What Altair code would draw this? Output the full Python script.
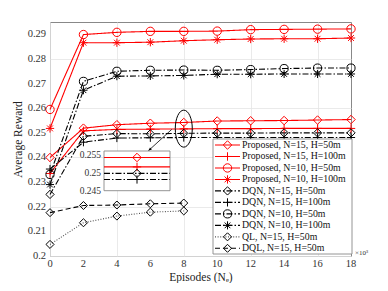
import altair as alt
import pandas as pd

# ---------------- data ----------------
episodes = [0, 2, 4, 6, 8, 10, 12, 14, 16, 18]
x_ticks = [0, 2, 4, 6, 8, 10, 12, 14, 16, 18]
y_ticks = [0.2, 0.21, 0.22, 0.23, 0.24, 0.25, 0.26, 0.27, 0.28, 0.29]
inset_ticks = [0.245, 0.25, 0.255]

series_names = [
    "Proposed, N=15, H=50m",
    "Proposed, N=15, H=100m",
    "Proposed, N=10, H=50m",
    "Proposed, N=10, H=100m",
    "DQN, N=15, H=50m",
    "DQN, N=15, H=100m",
    "DQN, N=10, H=50m",
    "DQN, N=10, H=100m",
    "QL, N=15, H=50m",
    "DQL, N=15, H=50m",
]

prop_15_50 = [0.2400, 0.2519, 0.2533, 0.2539, 0.2542, 0.2548, 0.2549, 0.2550, 0.2552, 0.2554]
prop_15_100 = [0.2335, 0.2508, 0.2514, 0.2515, 0.2516, 0.2517, 0.2517, 0.2518, 0.2518, 0.2518]
prop_10_50 = [0.2595, 0.2899, 0.2908, 0.2912, 0.2912, 0.2913, 0.2919, 0.2920, 0.2921, 0.2922]
prop_10_100 = [0.2518, 0.2866, 0.2866, 0.2868, 0.2874, 0.2878, 0.2881, 0.2882, 0.2882, 0.2885]
dqn_15_50 = [0.2250, 0.2486, 0.2497, 0.2496, 0.2498, 0.2499, 0.2499, 0.2500, 0.2500, 0.2500]
dqn_15_100 = [0.2353, 0.2462, 0.2479, 0.2480, 0.2481, 0.2481, 0.2481, 0.2481, 0.2481, 0.2481]
dqn_10_50 = [0.2331, 0.2709, 0.2750, 0.2754, 0.2755, 0.2754, 0.2757, 0.2761, 0.2763, 0.2763]
dqn_10_100 = [0.2290, 0.2673, 0.2730, 0.2731, 0.2733, 0.2738, 0.2738, 0.2739, 0.2739, 0.2739]
ql_15_50 = [0.2047, 0.2135, 0.2162, 0.2178, 0.2183]
dql_15_50 = [0.2176, 0.2205, 0.2207, 0.2212, 0.2215]

all_values = [prop_15_50, prop_15_100, prop_10_50, prop_10_100,
              dqn_15_50, dqn_15_100, dqn_10_50, dqn_10_100, ql_15_50, dql_15_50]

inset_series = [series_names[0], series_names[1], series_names[4], series_names[5]]
inset_episode = 8

# annotation (ellipse around x=8 and arrow to inset)
ellipse_at = [8, 0.2517]
arrow_from = [7.28, 0.2514]
arrow_to = [5.88, 0.2427]

# ---------------- styles ----------------
DIAMOND = "diamond"
PLUS = "M-1,0L1,0M0,-1L0,1"
CIRCLE = "circle"
STAR = "M-1,0L1,0M0,-1L0,1M-0.7,-0.7L0.7,0.7M-0.7,0.7L0.7,-0.7"
ELLIPSE = "M-0.46,0A0.46,1 0 1,0 0.46,0A0.46,1 0 1,0 -0.46,0"
ARROWHEAD = "M0,0L-0.5,-1.3L0.5,-1.3Z"

line_colors = ["#ff0000"] * 4 + ["#000000"] * 4 + ["#555555", "#000000"]
marker_colors = ["#ff0000"] * 4 + ["#000000"] * 6
dashes = [[1, 0]] * 4 + [[6, 2, 1.5, 2]] * 4 + [[1, 1.6]] + [[5, 3]]
shapes = [DIAMOND, PLUS, CIRCLE, STAR, DIAMOND, PLUS, CIRCLE, STAR, DIAMOND, DIAMOND]
sizes = [72, 64, 72, 64, 68, 64, 64, 64, 68, 68]

FONT = "Liberation Serif"

rows = []
for name, vals in zip(series_names, all_values):
    for e, v in zip(episodes, vals):
        rows.append({"series": name, "ep": e, "val": v})
df = pd.DataFrame(rows)

color_sc = alt.Scale(domain=series_names, range=line_colors)
stroke_sc = alt.Scale(domain=series_names, range=marker_colors)
dash_sc = alt.Scale(domain=series_names, range=dashes)
shape_sc = alt.Scale(domain=series_names, range=shapes)
size_sc = alt.Scale(domain=series_names, range=sizes)

x_main = alt.X(
    "ep:Q",
    scale=alt.Scale(domain=[0, 18], nice=False, zero=False),
    axis=alt.Axis(values=x_ticks, title="Episodes (Nₑ)", labels=False,
                  titlePadding=15, titleFontSize=11.5),
)
y_main = alt.Y(
    "val:Q",
    scale=alt.Scale(domain=[0.2, 0.295], nice=False, zero=False),
    axis=alt.Axis(values=y_ticks, title="Average Reward", labels=False,
                  titlePadding=27, titleFontSize=11.5),
)

lines = alt.Chart(df).mark_line(strokeWidth=1.1).encode(
    x=x_main, y=y_main,
    color=alt.Color("series:N", scale=color_sc, legend=None),
    strokeDash=alt.StrokeDash("series:N", scale=dash_sc, legend=None),
    detail="series:N",
)
points = alt.Chart(df).mark_point(filled=False, strokeWidth=1, opacity=1).encode(
    x="ep:Q", y="val:Q",
    stroke=alt.Stroke("series:N", scale=stroke_sc, legend=None),
    shape=alt.Shape("series:N", scale=shape_sc, legend=None),
    size=alt.Size("series:N", scale=size_sc, legend=None),
)

# tick labels drawn through the main scales
xlab_df = pd.DataFrame({"ep": x_ticks, "lab": [str(t) for t in x_ticks]})
x_labels = alt.Chart(xlab_df).mark_text(baseline="middle", align="center", font=FONT,
                                        fontSize=10.5, color="#333").encode(
    x="ep:Q", y=alt.value(242), text="lab:N")
ylab_df = pd.DataFrame({"val": y_ticks, "lab": [f"{t:g}" for t in y_ticks]})
y_labels = alt.Chart(ylab_df).mark_text(baseline="middle", align="right", font=FONT,
                                        fontSize=10.5, color="#333").encode(
    y="val:Q", x=alt.value(-4), text="lab:N")

ell_df = pd.DataFrame({"ep": [ellipse_at[0]], "val": [ellipse_at[1]]})
ellipse = alt.Chart(ell_df).mark_point(
    shape=ELLIPSE, size=1369, filled=False, stroke="#000", strokeWidth=1, opacity=1
).encode(x="ep:Q", y="val:Q")

arr_df = pd.DataFrame({"ep": [arrow_from[0]], "val": [arrow_from[1]],
                       "ep2": [arrow_to[0]], "val2": [arrow_to[1]]})
arrow_line = alt.Chart(arr_df).mark_rule(color="#000", strokeWidth=0.8).encode(
    x="ep:Q", y="val:Q", x2="ep2:Q", y2="val2:Q")
head_df = pd.DataFrame({"ep": [arrow_to[0]], "val": [arrow_to[1]]})
arrow_head = alt.Chart(head_df).mark_point(
    shape=ARROWHEAD, size=30, filled=True, color="#000", angle=47, opacity=1
).encode(x="ep:Q", y="val:Q")

main = alt.layer(lines, points, x_labels, y_labels, ellipse, arrow_line, arrow_head)

# ---------------- inset ----------------
IX0, IX1, IY0, IY1 = 54, 120, 129, 168.7
inset_df = df[(df["ep"] == inset_episode) & (df["series"].isin(inset_series))]
box_df = pd.DataFrame({"a": [0]})
inset_box = alt.Chart(box_df).mark_rect(fill="white", stroke="#888", strokeWidth=0.9).encode(
    x=alt.value(IX0), x2=alt.value(IX1), y=alt.value(IY0), y2=alt.value(IY1))
y_in_scale = alt.Scale(domain=[0.245, 0.256], range=[IY1, IY0], nice=False, zero=False)
inset_lines = alt.Chart(inset_df).mark_rule(strokeWidth=1.1).encode(
    x=alt.value(IX0), x2=alt.value(IX1),
    y=alt.Y("val:Q", scale=y_in_scale, axis=None),
    color=alt.Color("series:N", scale=color_sc, legend=None),
    strokeDash=alt.StrokeDash("series:N", scale=dash_sc, legend=None),
)
inset_points = alt.Chart(inset_df).mark_point(filled=False, strokeWidth=1, opacity=1).encode(
    x=alt.X("ep:Q", scale=alt.Scale(domain=[inset_episode - 0.5, inset_episode + 0.5],
                                    range=[IX0, IX1], nice=False, zero=False), axis=None),
    y=alt.Y("val:Q"),
    stroke=alt.Stroke("series:N", scale=stroke_sc, legend=None),
    shape=alt.Shape("series:N", scale=shape_sc, legend=None),
    size=alt.Size("series:N", scale=size_sc, legend=None),
)
ilab_df = pd.DataFrame({"val": inset_ticks, "lab": [f"{t:g}" for t in inset_ticks]})
inset_labels = alt.Chart(ilab_df).mark_text(baseline="middle", align="right", font=FONT,
                                            fontSize=9.5, color="#333").encode(
    y=alt.Y("val:Q"), x=alt.value(IX0 - 3), text="lab:N")
inset = alt.layer(inset_box, inset_lines, inset_points, inset_labels)

# ---------------- legend ----------------
leg_df = pd.DataFrame({"series": series_names, "row": list(range(len(series_names)))})
LX0, LX1, LY0, LY1 = 163, 302, 117, 232
leg_box = alt.Chart(box_df).mark_rect(fill="white", stroke="#888", strokeWidth=0.9).encode(
    x=alt.value(LX0), x2=alt.value(LX1), y=alt.value(LY0), y2=alt.value(LY1))
leg_base = alt.Chart(leg_df).transform_calculate(ypix="123 + datum.row * 11.48")
leg_lines = leg_base.mark_rule(strokeWidth=1.1).encode(
    x=alt.value(165), x2=alt.value(190), y=alt.Y("ypix:Q", scale=None, axis=None),
    color=alt.Color("series:N", scale=color_sc, legend=None),
    strokeDash=alt.StrokeDash("series:N", scale=dash_sc, legend=None),
)
leg_points = leg_base.mark_point(filled=False, strokeWidth=1, opacity=1).encode(
    x=alt.value(177.5), y=alt.Y("ypix:Q", scale=None, axis=None),
    stroke=alt.Stroke("series:N", scale=stroke_sc, legend=None),
    shape=alt.Shape("series:N", scale=shape_sc, legend=None),
    size=alt.Size("series:N", scale=size_sc, legend=None),
)
leg_text = leg_base.mark_text(align="left", baseline="middle", font=FONT, fontSize=9.8,
                              color="#111").encode(
    x=alt.value(192), y=alt.Y("ypix:Q", scale=None, axis=None), text="series:N")
legend = alt.layer(leg_box, leg_lines, leg_points, leg_text)

exp_text = alt.Chart(box_df).mark_text(align="left", baseline="middle", font=FONT,
                                       fontSize=7, color="#333").encode(
    x=alt.value(305), y=alt.value(231), text=alt.value("×10³"))

chart = alt.layer(main, inset, legend, exp_text).resolve_scale(
    x="independent", y="independent"
).properties(
    width=301, height=234,
    padding={"left": 42, "top": 14, "right": 29, "bottom": 27},
    autosize=alt.AutoSizeParams(type="none"),
).configure_view(
    stroke="#888", strokeWidth=1
).configure_axis(
    domain=False, ticks=False, gridColor="#e4e4e4", gridWidth=0.8,
    labelFont=FONT, titleFont=FONT, labelColor="#333", titleColor="#222",
    titleFontWeight="normal",
)

chart.save("out.html", embed_options={"renderer": "svg", "actions": False})
